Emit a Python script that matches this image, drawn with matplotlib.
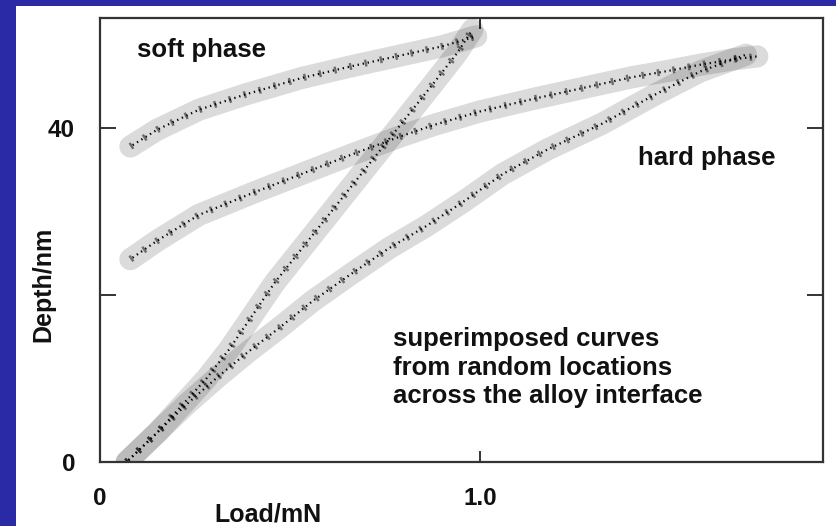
import matplotlib
matplotlib.use("Agg")
import matplotlib.pyplot as plt
from matplotlib.patches import Rectangle

plt.rcParams['font.family'] = ['Liberation Sans', 'DejaVu Sans']
plt.rcParams['font.weight'] = 'bold'
plt.rcParams['axes.labelweight'] = 'bold'

# curves: load in mN, depth in nm
soft_load_x = [0.07, 0.15, 0.22, 0.28, 0.34, 0.40, 0.46, 0.53, 0.60, 0.67, 0.74, 0.81, 0.88, 0.94, 0.98]
soft_load_y = [0.0, 3.5, 7.0, 10.0, 13.5, 17.5, 21.5, 25.5, 29.5, 33.5, 37.5, 41.5, 45.5, 49.0, 51.8]

soft_unload_x = [0.08, 0.15, 0.26, 0.38, 0.53, 0.66, 0.79, 0.90, 0.99]
soft_unload_y = [37.8, 39.8, 42.2, 44.0, 46.0, 47.4, 48.7, 49.8, 51.0]

hard_load_x = [0.07, 0.15, 0.23, 0.31, 0.39, 0.47, 0.56, 0.66, 0.76, 0.86, 0.96, 1.06, 1.18, 1.32, 1.46, 1.58, 1.70]
hard_load_y = [0.0, 3.5, 7.0, 10.2, 13.2, 16.0, 19.3, 22.5, 25.6, 28.3, 31.3, 34.5, 37.5, 40.5, 44.0, 46.8, 48.8]

hard_unload_x = [0.08, 0.15, 0.26, 0.40, 0.53, 0.66, 0.79, 0.88, 1.00, 1.14, 1.27, 1.40, 1.50, 1.58, 1.66, 1.73]
hard_unload_y = [24.3, 26.5, 29.6, 32.2, 34.5, 36.8, 39.0, 40.4, 42.0, 43.5, 44.8, 46.1, 46.9, 47.6, 48.2, 48.6]

curves = [(soft_load_x, soft_load_y), (soft_unload_x, soft_unload_y),
          (hard_load_x, hard_load_y), (hard_unload_x, hard_unload_y)]

x_ticks = [0, 1.0]
x_tick_labels = ['0', '1.0']
y_ticks = [0, 20, 40]
y_tick_labels = ['0', '', '40']

ink = '#111111'

fig = plt.figure(figsize=(8.37, 5.26), dpi=100)
fig.patch.set_facecolor('#2a2aa6')
fig.add_artist(Rectangle((16 / 837, 0), 1, 520 / 526, transform=fig.transFigure,
                         facecolor='white', edgecolor='none', zorder=0))

ax = fig.add_axes([0.1195, 0.1217, 0.8638, 0.8441])
ax.set_facecolor('white')

for x, y in curves:
    # faint band for the spread of the scattered points, dotted traces on top
    ax.plot(x, y, color='black', lw=16, alpha=0.14,
            solid_capstyle='round', solid_joinstyle='round')
    ax.plot(x, y, color='black', lw=5, alpha=0.5, linestyle=(0, (0.35, 1.9)))
    ax.plot(x, y, color='black', lw=1.6, linestyle=(1.1, (0.6, 1.7)))

ax.set_xlim(0, 1.903)
ax.set_ylim(0, 53.2)

ax.set_xticks(x_ticks)
ax.set_xticklabels(x_tick_labels)
ax.set_yticks(y_ticks)
ax.set_yticklabels(y_tick_labels)
ax.tick_params(axis='both', direction='in', colors='#333333', labelcolor=ink,
               labelsize=17.5, width=1.4)
ax.tick_params(axis='x', length=8, pad=18, top=True)
ax.tick_params(axis='y', length=11.5, pad=18, right=True)

for s in ax.spines.values():
    s.set_color('#333333')
    s.set_linewidth(1.6)

ax.set_xlabel('Load/mN', fontsize=18, color=ink, fontweight='bold')
ax.xaxis.set_label_coords(0.232, -0.092)
ax.set_ylabel('Depth/nm', fontsize=18, color=ink, fontweight='bold')
ax.yaxis.set_label_coords(-0.062, 0.401)

ax.text(0.097, 48.5, 'soft phase', fontsize=18.5, color=ink, ha='left', va='baseline')
ax.text(1.416, 35.6, 'hard phase', fontsize=18.5, color=ink, ha='left', va='baseline')
ax.text(0.771, 16.2, 'superimposed curves\nfrom random locations\nacross the alloy interface',
        fontsize=18.5, color=ink, ha='left', va='top', linespacing=1.25)

fig.savefig('out.png', dpi=100, facecolor=fig.get_facecolor())
